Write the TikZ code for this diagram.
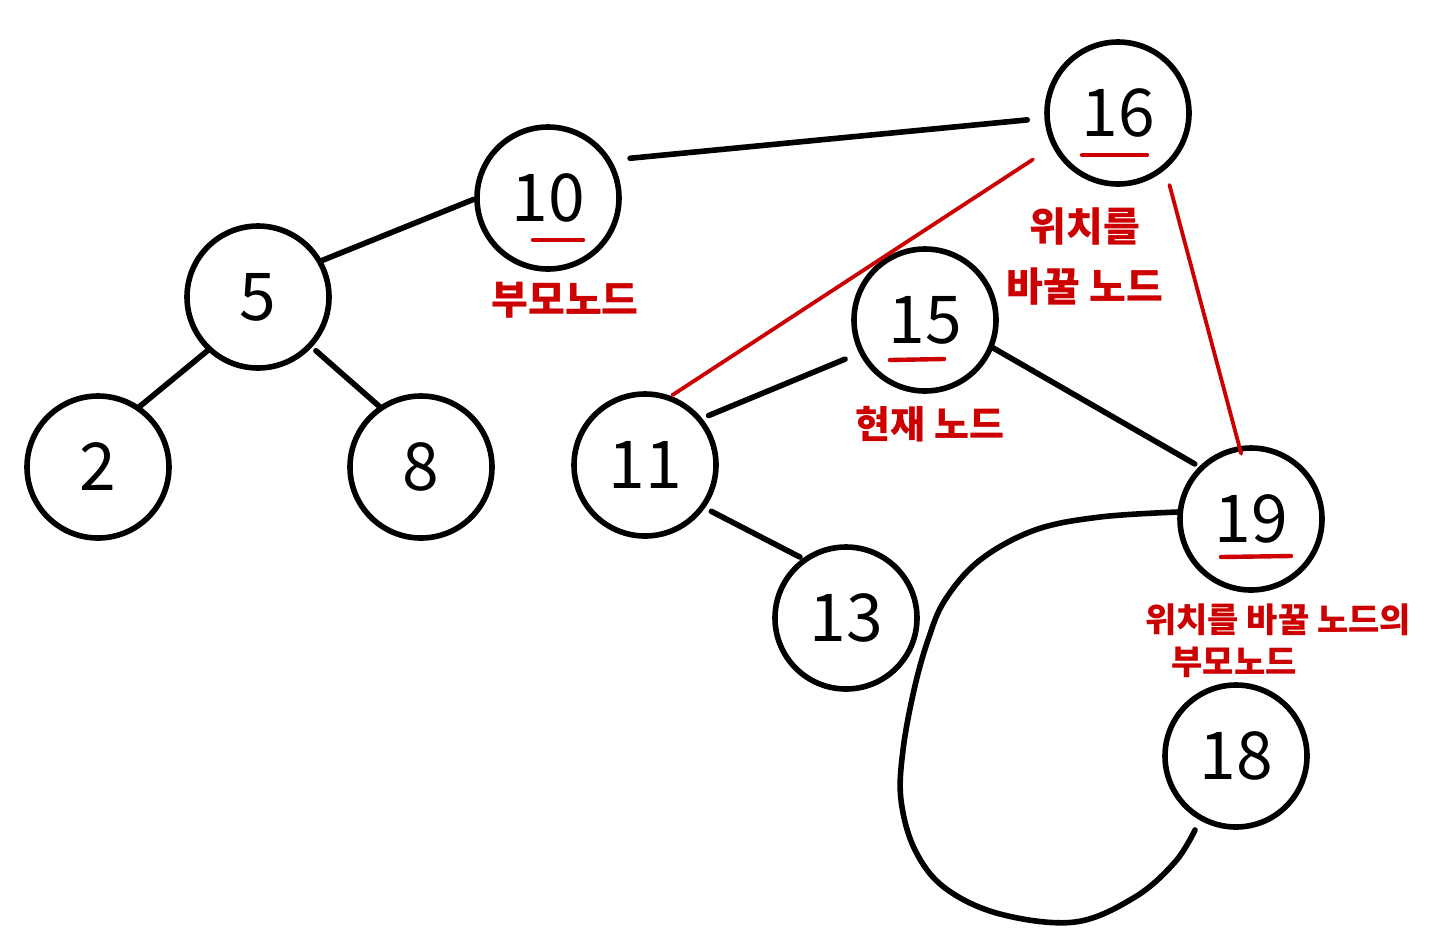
\documentclass[tikz,border=0pt]{standalone}
\usepackage{fontspec}
\setmainfont{Noto Sans CJK KR}
\usetikzlibrary{calc}
\definecolor{penred}{RGB}{204,0,0}
\tikzset{
  tnode/.style={circle,draw=black,line width=2.8pt,minimum size=71pt,inner sep=0pt,outer sep=0pt,font=\fontsize{33}{36}\selectfont},
  edge/.style={draw=black,line width=2.8pt,line cap=round},
  rededge/.style={draw=penred,line width=1.9pt,line cap=round},
  uline/.style={draw=penred,line width=2.2pt,line cap=round},
  note/.style={text=penred,font=\fontsize{19}{22}\selectfont\bfseries,inner sep=0pt,align=center},
}
\begin{document}
\begin{tikzpicture}[x=0.5pt,y=-0.5pt]
\useasboundingbox[fill=white] (0,0) rectangle (1440,949);
% nodes
\node[tnode] (n10) at (548,198) {10};
\node[tnode] (n16) at (1118,113) {16};
\node[tnode] (n5) at (258,297) {5};
\node[tnode] (n2) at (98,467) {2};
\node[tnode] (n8) at (421,467) {8};
\node[tnode] (n15) at (925,320) {15};
\node[tnode] (n11) at (645,465) {11};
\node[tnode] (n13) at (846,618) {13};
\node[tnode] (n19) at (1251,519) {19};
\node[tnode] (n18) at (1236,756) {18};
% black edges
\draw[edge,shorten <=11pt,shorten >=10pt] (n10.32) -- (n16.184);
\draw[edge,shorten <=2pt,shorten >=1.5pt] (n10.180) -- (n5.30);
\draw[edge,shorten <=0pt,shorten >=0.5pt] (n5.227) -- (n2.56);
\draw[edge,shorten <=4pt,shorten >=1pt] (n5.317) -- (n8.124);
\draw[edge,shorten <=5pt,shorten >=9pt] (n11.40) -- (n15.207);
\draw[edge,shorten <=0.5pt,shorten >=4pt] (n15.338) -- (n19.134);
\draw[edge,shorten <=5pt,shorten >=3pt] (n11.324) -- (n13.125);
% red edges
\draw[rededge,shorten <=13pt,shorten >=2.5pt] (n16.207) -- (n11.71);
\draw[rededge,shorten <=9.5pt,shorten >=-2.5pt] (n16.311) -- (n19.99);
% underlines
\draw[uline] (533,240) -- (583,240);
\draw[uline] (1082,155) -- (1147,155);
\draw[uline] (890,360) -- (944,359);
\draw[uline] (1221,557) -- (1291,556);
% subtree loop
\draw[edge,line join=round] plot[smooth,tension=0.6] coordinates {(1178,512) (1100,517) (1035,530) (980,560) (945,600) (928,640) (914,690) (903,750) (901,800) (915,850) (945,888) (1000,914) (1075,922) (1135,897) (1175,862) (1195,830)};
% labels
\node[note,font=\fontsize{20}{22}\selectfont\bfseries] (l10) at (565,300) {부모노드};
\node[note,align=center,font=\fontsize{20}{22}\selectfont\bfseries] (l16) at (1085,257) {위치를\\[8pt]바꿀 노드};
\node[note] (l15) at (930,424) {현재 노드};
\node[note,font=\fontsize{17}{21}\selectfont\bfseries] (l19a) at (1278,620) {위치를 바꿀 노드의};
\node[note,font=\fontsize{17}{21}\selectfont\bfseries] (l19b) at (1234,662) {부모노드};
\end{tikzpicture}
\end{document}
